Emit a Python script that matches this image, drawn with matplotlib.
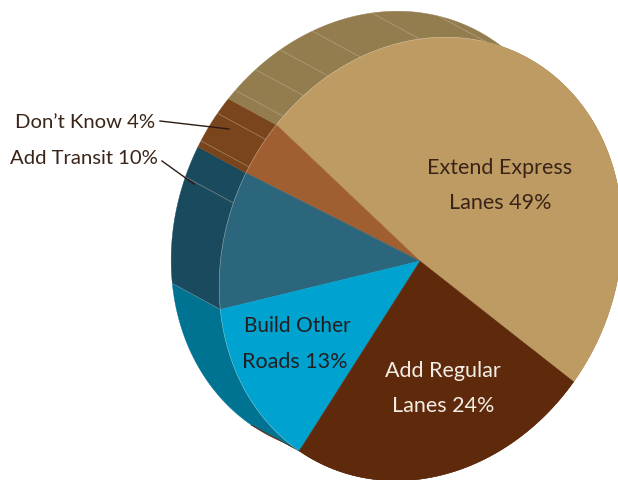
import numpy as np
import matplotlib
matplotlib.use("Agg")
import matplotlib.pyplot as plt
from matplotlib.patches import Polygon

# Survey shares, in drawing order around the disc
categories = ["Extend Express Lanes", "Don't Know", "Add Transit", "Build Other Roads", "Add Regular Lanes"]
shares = [49, 4, 10, 13, 24]
top_colors = ["#BE9B63", "#A05F30", "#2C667D", "#00A2CF", "#5F2A0C"]
side_colors = ["#937D4E", "#7A451C", "#1A4A5E", "#007393", "#5F2A0C"]

START_ANGLE = -101.0
CENTER = np.array([420.7, 259.96])                      # middle of the tilted disc
APEX = np.array([420.0, 262.0])                         # point where the slices meet
SHAPE = np.array([[99.75, -175.11], [-204.65, -85.35]])  # unit circle to the tilted disc
DEPTH = np.array([-48.0, -26.0])                        # extrusion of the rim
RIB_ANGLES = [10.5, 29.9, 47.1, 57, 65.2, 72.6, 80, 88.1, 98]

fig = plt.figure(figsize=(6.18, 4.81), dpi=100)
ax = fig.add_axes([0, 0, 1, 1])
ax.set_xlim(0, 618)
ax.set_ylim(481, 0)
ax.axis("off")


def rim(deg):
    t = np.radians(np.atleast_1d(deg))
    return (SHAPE @ np.vstack([np.cos(t), np.sin(t)])).T + CENTER


edges = START_ANGLE + 3.6 * np.concatenate([[0], np.cumsum(shares)])

# Rim of every slice first, so the top face covers whatever lies behind it
for i in [4, 3, 2, 1, 0]:
    arc = rim(np.linspace(edges[i], edges[i + 1], 160))
    outline = np.vstack([arc, arc[::-1] + DEPTH])
    ax.add_patch(Polygon(outline, closed=True, fc=side_colors[i], ec=side_colors[i], lw=0.3, zorder=1))

# Thin ribs across the rim
for deg in RIB_ANGLES:
    p = rim(deg)[0]
    q = p + DEPTH
    ax.plot([p[0], q[0]], [p[1], q[1]], color="#C9BFA8", lw=0.5, alpha=0.55, zorder=2)

# Seam between the two blue rim slices, and the dark edge under the lower blue one
p = rim(edges[3])[0]
q = p + DEPTH
ax.plot([p[0], q[0]], [p[1], q[1]], color="#6FA9BB", lw=0.5, alpha=0.7, zorder=2)
p = rim(edges[4])[0]
q = p + DEPTH
ax.plot([p[0], q[0]], [p[1], q[1]], color=side_colors[4], lw=0.5, alpha=0.8, zorder=2)

# Top face
for i in range(len(shares)):
    arc = rim(np.linspace(edges[i], edges[i + 1], 200))
    ax.add_patch(Polygon(np.vstack([APEX, arc]), closed=True, fc=top_colors[i], ec=top_colors[i],
                         lw=0.3, zorder=3))

# Light hairline where the top face meets the rim
hair = rim(np.linspace(12, 172, 300))
ax.plot(hair[:, 0], hair[:, 1], color="#E6DCC8", lw=0.4, alpha=0.5, zorder=4)

font = ["Lato", "Liberation Sans"]
dark = "#3A2418"


def label(x, y, s, color=dark, ha="center", size=15.5):
    ax.text(x, y, s, color=color, fontsize=size, family=font, ha=ha, va="center", zorder=6)


label(500, 168, "Extend Express")
label(500, 203, "Lanes 49%")
label(297, 326, "Build Other", color="#231F20", size=15)
label(295, 362, "Roads 13%", color="#231F20")
label(443, 371, "Add Regular", color="#F4EDE4")
label(443, 406, "Lanes 24%", color="#F4EDE4")
label(155, 122, "Don\u2019t Know 4%", ha="right", size=14.6)
label(158, 159, "Add Transit 10%", ha="right", size=14.6)

# Leader lines for the two small slices
ax.plot([160, 229], [122, 130], color="#2E1A12", lw=1.0, zorder=6)
ax.plot([162, 194], [162, 185], color="#2E1A12", lw=1.0, zorder=6)

fig.savefig("out.png", dpi=100)
